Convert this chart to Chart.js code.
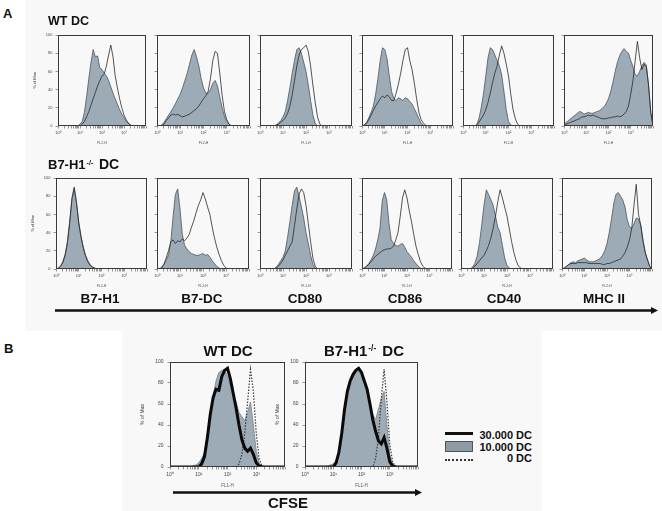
<!DOCTYPE html>
<html><head><meta charset="utf-8">
<script src="https://cdn.jsdelivr.net/npm/chart.js"></script>
<style>
html,body{margin:0;padding:0;background:#fff;}
body{width:662px;height:511px;position:relative;overflow:hidden;font-family:"Liberation Sans",Arial,sans-serif;}
.bg{position:absolute;background:#f8f8f8;}
canvas{position:absolute;}
.t{position:absolute;font-weight:bold;color:#111;white-space:nowrap;line-height:1;}
.c{transform:translateX(-50%);}
sup{font-size:55%;vertical-align:0.55em;line-height:0;margin:0 2px 0 1px;}
</style></head><body>
<div class="bg" style="left:25px;top:0;width:637px;height:331px"></div>
<div class="bg" style="left:122px;top:331px;width:420px;height:180px"></div>
<script>
// ---- shared x channel positions (log10 decades) ----
const decades = [0.0,0.1,0.2,0.3,0.4,0.5,0.6,0.7,0.8,0.9,1.0,1.1,1.2,1.3,1.4,1.5,1.6,1.7,1.8,1.9,2.0,2.1,2.2,2.3,2.4,2.5,2.6,2.7,2.8,2.9,3.0,3.1,3.2,3.3,3.4,3.5,3.6,3.7,3.8,3.9,4.0];
const xTickLabels = ['10\u2070','10\u00b9','10\u00b2','10\u00b3'];
const markers = ['B7-H1','B7-DC','CD80','CD86','CD40','MHC II'];
const channels = ['FL2-H','FL2-H','FL1-H','FL1-H','FL2-H','FL2-H'];
const rowTitles = ['WT DC','B7-H1'];
const legendLabels = ['30.000 DC','10.000 DC','0 DC'];

// ---- Panel A, WT DC (% of max): filled = isotype/control, open = stain ----
const wtB7H1Fill = [0,0,0,0,0,0,0,0,0,0, 2,5,15,32,52,70,84,76,77,64, 62,58,55,50,43,36,30,24,18,13, 9,5,3,1,0,0,0,0,0,0,0];
const wtB7H1Open = [0,0,0,0,0,0,0,0,0,0, 0,2,5,10,16,23,30,37,44,50, 55,57,66,78,89,76,55,42,30,20, 12,7,3,1,0,0,0,0,0,0,0];
const wtB7DCFill = [0,0,1,4,8,12,16,20,25,30, 35,42,50,58,68,78,84,76,66,52, 42,36,36,40,47,50,44,32,20,11, 5,2,0,0,0,0,0,0,0,0,0];
const wtB7DCOpen = [0,0,0,2,6,9,12,13,12,13, 11,10,11,12,13,15,17,19,22,26, 30,33,38,52,72,82,80,58,34,16, 7,2,0,0,0,0,0,0,0,0,0];
const wtCD80Fill = [0,0,0,0,0,0,0,1,3,6, 10,16,28,42,58,72,84,86,80,70, 60,45,28,12,3,0,0,0,0,0, 0,0,0,0,0,0,0,0,0,0,0];
const wtCD80Open = [0,0,0,0,0,0,0,1,2,4, 6,9,14,22,34,50,66,78,84,86, 89,82,66,45,26,10,2,0,0,0, 0,0,0,0,0,0,0,0,0,0,0];
const wtCD86Fill = [0,1,4,9,15,22,35,52,72,86, 84,74,55,38,30,28,31,30,28,31, 30,27,24,19,14,8,3,1,0,0, 0,0,0,0,0,0,0,0,0,0,0];
const wtCD86Open = [0,1,3,7,12,17,22,26,30,33, 31,34,32,28,28,36,46,58,72,84, 86,72,62,47,30,15,7,3,1,0, 0,0,0,0,0,0,0,0,0,0,0];
const wtCD40Fill = [0,0,0,0,0,0,1,8,20,35, 55,75,86,84,78,72,66,56,38,18, 5,1,0,0,0,0,0,0,0,0, 0,0,0,0,0,0,0,0,0,0,0];
const wtCD40Open = [0,0,0,0,0,0,1,4,8,12, 18,26,36,48,58,66,78,88,80,68, 55,35,18,8,2,0,0,0,0,0, 0,0,0,0,0,0,0,0,0,0,0];
const wtMHCFill  = [2,4,6,8,10,12,14,16,15,13, 14,15,14,14,15,16,17,19,21,25, 30,38,48,60,70,77,82,85,82,80, 72,65,56,55,60,66,70,67,45,15,0];
const wtMHCOpen  = [1,2,3,4,5,6,7,8,10,10, 11,12,11,12,11,10,9,8,8,8, 9,9,10,10,11,10,11,13,16,22, 35,50,72,93,75,62,68,65,45,15,0];

// ---- Panel A, B7-H1-/- DC ----
const koB7H1Fill = [0,1,3,8,16,30,52,76,88,72, 52,36,24,15,9,5,2,1,0,0, 0,0,0,0,0,0,0,0,0,0, 0,0,0,0,0,0,0,0,0,0,0];
const koB7H1Open = [0,1,3,7,15,28,50,78,90,74, 50,35,23,14,8,4,2,1,0,0, 0,0,0,0,0,0,0,0,0,0, 0,0,0,0,0,0,0,0,0,0,0];
const koB7DCFill = [0,0,2,5,10,15,30,58,82,88, 66,38,26,22,19,17,16,15,15,16, 17,15,16,13,9,6,3,1,0,0, 0,0,0,0,0,0,0,0,0,0,0];
const koB7DCOpen = [0,0,1,5,12,20,30,32,28,31, 30,33,31,34,38,46,53,62,70,76, 84,77,68,60,46,34,24,16,9,4, 1,0,0,0,0,0,0,0,0,0,0];
const koCD80Fill = [0,0,0,0,0,0,0,2,5,9, 13,20,35,52,70,86,90,80,68,56, 40,28,15,5,1,0,0,0,0,0, 0,0,0,0,0,0,0,0,0,0,0];
const koCD80Open = [0,0,0,0,0,0,0,1,3,6, 10,15,20,25,30,48,66,82,88,84, 70,50,30,12,3,0,0,0,0,0, 0,0,0,0,0,0,0,0,0,0,0];
const koCD86Fill = [0,1,3,6,10,15,22,32,45,75, 84,76,50,32,28,26,25,27,28,24, 19,16,13,9,6,3,1,0,0,0, 0,0,0,0,0,0,0,0,0,0,0];
const koCD86Open = [0,1,3,5,8,11,14,16,18,20, 21,22,22,23,25,32,40,58,78,87, 78,64,52,38,25,16,8,3,1,0, 0,0,0,0,0,0,0,0,0,0,0];
const koCD40Fill = [0,0,0,0,0,2,6,14,28,48, 70,87,82,76,70,58,46,40,26,12, 4,1,0,0,0,0,0,0,0,0, 0,0,0,0,0,0,0,0,0,0,0];
const koCD40Open = [0,0,0,0,0,1,3,6,9,12, 15,20,26,34,45,58,74,87,78,68, 58,44,30,18,9,3,1,0,0,0, 0,0,0,0,0,0,0,0,0,0,0];
const koMHCFill  = [0,1,3,5,7,8,7,9,10,11, 12,10,8,8,8,9,10,12,15,20, 28,40,55,72,82,84,80,76,68,54, 46,45,50,56,55,48,30,18,10,3,0];
const koMHCOpen  = [0,1,3,5,6,6,6,7,7,7, 7,7,6,6,6,6,6,6,5,5, 6,6,7,8,9,10,11,14,18,24, 32,45,70,93,60,48,32,18,10,3,0];

// ---- Panel B, CFSE dilution (% of max) ----
const cfseWT10k = [0,0,0,0,0,0,0,0,1,2, 4,8,14,30,50,68,82,90,92,93, 86,78,68,62,52,48,44,52,62,40, 15,4,1,0,0,0,0,0,0,0,0];
const cfseWT30k = [0,0,0,0,0,0,0,0,0,0, 0,3,10,28,50,66,74,73,86,92, 94,84,70,56,40,26,18,15,18,12, 4,1,0,0,0,0,0,0,0,0,0];
const cfseWT0   = [0,0,0,0,0,0,0,0,0,0, 0,0,0,0,0,0,0,0,0,0, 0,0,0,0,3,12,32,62,93,72, 32,8,1,0,0,0,0,0,0,0,0];
const cfseKO10k = [0,0,0,0,0,0,0,0,1,2, 3,6,15,32,52,72,84,90,93,95, 90,82,70,57,50,45,55,65,72,40, 12,3,0,0,0,0,0,0,0,0,0];
const cfseKO30k = [0,0,0,0,0,0,0,0,0,0, 0,4,14,32,55,72,82,88,92,94, 90,82,74,60,45,34,25,22,28,18, 5,1,0,0,0,0,0,0,0,0,0];
const cfseKO0   = [0,0,0,0,0,0,0,0,0,0, 0,0,0,0,0,0,0,0,0,0, 0,0,0,0,0,8,28,65,93,62, 22,5,1,0,0,0,0,0,0,0,0];

// ---- layout (positions only) ----
const boxesRow1 = [[58,35,88,91],[157,35,93,91],[260,35,92,91],[362,35,91,91],[463,35,91,91],[564,35,89,91]];
const boxesRow2 = [[56,178,91,91],[157,178,92,91],[260,178,92,91],[362,178,90,91],[461,178,92,91],[562,178,90,91]];
const boxesB = [[170,361,115,106],[305,361,113,106]];

const FONT = '"Liberation Sans", Arial, sans-serif';
const FILL = '#9cabb6', FILL_EDGE = '#4b565e', OPEN = '#2a2a2a';

const framePlugin = {id:'frame', afterDatasetsDraw(chart){
  const {ctx, chartArea:a} = chart; ctx.save();
  ctx.strokeStyle = '#3a3a3a'; ctx.lineWidth = 1;
  const l = Math.round(a.left)+0.5, t = Math.round(a.top)+0.5, r = Math.round(a.right)-0.5, b = Math.round(a.bottom)-0.5;
  ctx.strokeRect(l, t, r-l, b-t); ctx.restore();
}};

function pts(arr){ return decades.map((d,i)=>({x: Math.pow(10,d), y: arr[i]})); }

function makeChart(box, datasets, o){
  const [bx,by,bw,bh] = box;
  const padL = o.padL, padT = 6, padR = 4, axH = o.axH;
  const W = bw + padL + padR, H = bh + padT + axH;
  const c = document.createElement('canvas');
  c.width = W; c.height = H;
  c.style.left = (bx-padL)+'px'; c.style.top = (by-padT)+'px';
  c.style.width = W+'px'; c.style.height = H+'px';
  document.body.appendChild(c);
  new Chart(c, {type:'line', data:{datasets}, plugins:[framePlugin], options:{
    responsive:false, animation:false, devicePixelRatio:1,
    layout:{padding:{left:0,right:padR,top:padT,bottom:0}},
    plugins:{legend:{display:false}, tooltip:{enabled:false}},
    elements:{point:{radius:0}, line:{tension:0}},
    scales:{
      x:{type:'logarithmic', min:1, max:10000,
        afterFit(s){ s.height = axH; },
        afterBuildTicks(s){ s.ticks = s.ticks.filter(t=>{ const e=Math.floor(Math.log10(t.value)+1e-9); const m=t.value/Math.pow(10,e); return Math.abs(m-1.5)>1e-6; }); },
        border:{display:false},
        grid:{drawOnChartArea:false, drawTicks:true, tickLength:2.5, color:'#555', lineWidth:0.6},
        ticks:{autoSkip:false, maxRotation:0, minRotation:0, padding:2, color:'#444', font:{family:FONT, size:o.tickSize},
          callback(v){ const l=Math.log10(v); const r=Math.round(l); if (Math.abs(l-r)<1e-6 && r<=3) return xTickLabels[r]; return ''; }},
        title:{display:true, text:o.xTitle, color:'#556', font:{family:FONT, size:o.tickSize-0.5}, padding:{top:0,bottom:o.titlePadB}}
      },
      y:{type:'linear', min:0, max:100,
        afterFit(s){ s.width = padL; },
        border:{display:false},
        grid:{drawOnChartArea:false, drawTicks:true, tickLength:2.5, color:'#555', lineWidth:0.6},
        ticks:{stepSize:20, padding:o.yPad, color:'#444', font:{family:FONT, size:o.tickSize},
          callback(v){ return o.yLabels ? String(v) : ''; }},
        title:{display:o.yLabels, text:'% of Max', color:'#333', font:{family:FONT, size:o.tickSize}, padding:{top:0,bottom:0}}
      }
    }
  }});
}

function histoPair(fill, open){
  return [
    {data:pts(open), borderColor:OPEN, borderWidth:0.8, fill:false, order:1},
    {data:pts(fill), borderColor:FILL_EDGE, borderWidth:0.8, backgroundColor:FILL, fill:'origin', order:2}
  ];
}

const row1 = [[wtB7H1Fill,wtB7H1Open],[wtB7DCFill,wtB7DCOpen],[wtCD80Fill,wtCD80Open],[wtCD86Fill,wtCD86Open],[wtCD40Fill,wtCD40Open],[wtMHCFill,wtMHCOpen]];
const row2 = [[koB7H1Fill,koB7H1Open],[koB7DCFill,koB7DCOpen],[koCD80Fill,koCD80Open],[koCD86Fill,koCD86Open],[koCD40Fill,koCD40Open],[koMHCFill,koMHCOpen]];

row1.forEach((p,i)=>makeChart(boxesRow1[i], histoPair(p[0],p[1]), {padL:26, axH:22, tickSize:4, xTitle:channels[i], yLabels:i===0, yPad:3, titlePadB:3}));
row2.forEach((p,i)=>makeChart(boxesRow2[i], histoPair(p[0],p[1]), {padL:26, axH:22, tickSize:4, xTitle:channels[i], yLabels:i===0, yPad:3, titlePadB:3}));

function cfseSets(g, thick, dot){
  return [
    {data:pts(thick), borderColor:'#0a0a0a', borderWidth:3, fill:false, order:1},
    {data:pts(dot), borderColor:'#3a3a3a', borderWidth:1.2, borderDash:[1.5,1.5], fill:false, order:2},
    {data:pts(g), borderColor:'#75838c', borderWidth:0.8, backgroundColor:FILL, fill:'origin', order:3}
  ];
}
makeChart(boxesB[0], cfseSets(cfseWT10k, cfseWT30k, cfseWT0), {padL:30, axH:24, tickSize:5, xTitle:'FL1-H', yLabels:true, yPad:4, titlePadB:3});
makeChart(boxesB[1], cfseSets(cfseKO10k, cfseKO30k, cfseKO0), {padL:30, axH:24, tickSize:5, xTitle:'FL1-H', yLabels:true, yPad:4, titlePadB:3});

// ---- text labels ----
function txt(html, x, y, size, center){
  const d = document.createElement('div');
  d.className = 't' + (center ? ' c' : '');
  d.style.left = x+'px'; d.style.top = y+'px'; d.style.fontSize = size+'px';
  d.innerHTML = html; document.body.appendChild(d);
}
txt('A', 3, 7, 13);
txt(rowTitles[0], 48, 15, 12.5);
txt(rowTitles[1] + '<sup>-/-</sup> <span style="font-size:14px">DC</span>', 48, 157, 13);
const labelCenters = [100,202,305,405,504,604];
markers.forEach((m,i)=>txt(m, labelCenters[i], 292, 13.5, true));
txt('B', 4, 341.5, 13);
txt(rowTitles[0], 228, 343, 15, true);
txt(rowTitles[1] + '<sup>-/-</sup> DC', 364, 343, 15, true);
txt('CFSE', 288, 494.5, 15, true);
const leg = document.createElement('div');
leg.className = 't'; leg.style.cssText = 'right:130px;top:430px;font-size:11px;line-height:11.6px;text-align:right;';
leg.innerHTML = legendLabels.join('<br>'); document.body.appendChild(leg);
</script>
<div style="position:absolute;left:445px;top:432px;width:28px;height:2.5px;background:#111"></div>
<div style="position:absolute;left:445px;top:441px;width:26px;height:9px;background:#8d9ba5;border:1px solid #4b565e"></div>
<div style="position:absolute;left:445px;top:459px;width:28px;height:0;border-top:2px dotted #333"></div>
<svg style="position:absolute;left:0;top:0" width="662" height="511">
<line x1="55" y1="310.5" x2="652" y2="310.5" stroke="#111" stroke-width="2.5"/>
<polygon points="651,307 658,310.5 651,314" fill="#111"/>
<line x1="173" y1="492.5" x2="416" y2="492.5" stroke="#111" stroke-width="2.5"/>
<polygon points="415,489 422,492.5 415,496" fill="#111"/>
</svg>
</body></html>
